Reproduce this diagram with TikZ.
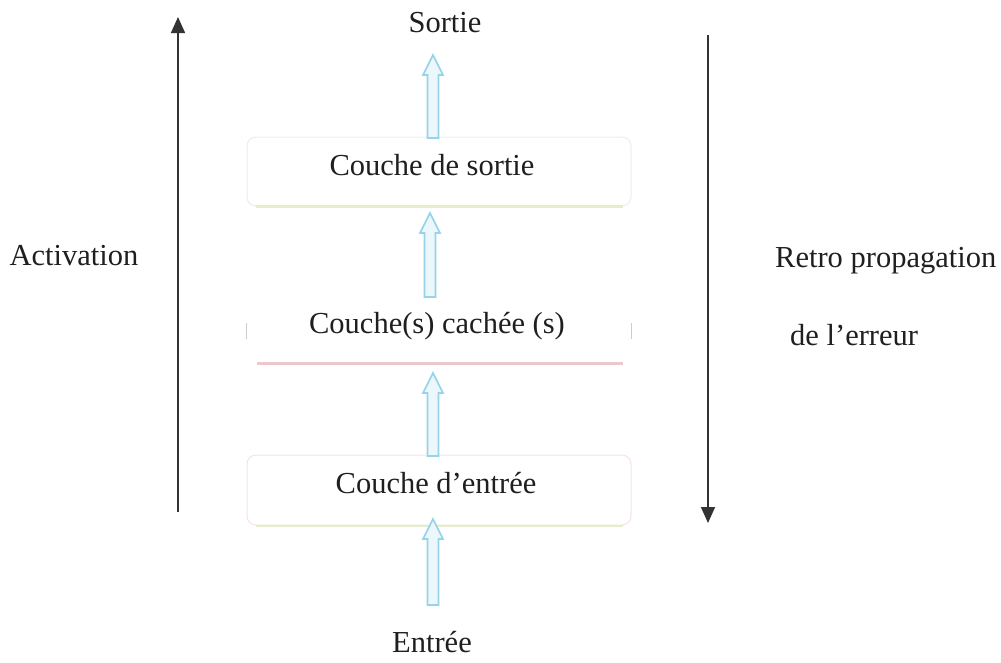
\documentclass[tikz,border=0pt]{standalone}
\usepackage{fontspec}
\setmainfont{Liberation Serif}
\usetikzlibrary{calc,arrows.meta}

\definecolor{arrowline}{RGB}{150,212,232}
\definecolor{arrowfill}{RGB}{236,247,252}
\definecolor{hidshadow}{RGB}{236,200,206}
\definecolor{greenedge}{RGB}{230,238,200}
\definecolor{pinkedge}{RGB}{242,214,220}

% light blue outline arrow between two named points
\newcommand\hollowarrow[2]{%
  \draw[flowarrow] let \p1=(#1), \p2=(#2) in
    (\x1-5.5pt,\y1) -- (\x1-5.5pt,\y2-20pt) -- (\x1-10pt,\y2-20pt) -- (\x2,\y2)
    -- (\x1+10pt,\y2-20pt) -- (\x1+5.5pt,\y2-20pt) -- (\x1+5.5pt,\y1) -- cycle;}

\begin{document}
\begin{tikzpicture}[x=1pt,y=-1pt,
  txt/.style={font=\fontsize{30.5}{36}\selectfont, inner sep=0pt, text=black!88},
  layerbox/.style={rounded corners=9pt, minimum width=384pt, inner sep=0pt,
    fill=white, draw=black!7, line width=1pt},
  flowarrow/.style={draw=arrowline, line width=1.6pt, fill=arrowfill, line join=miter},
  mainflow/.style={draw=black!80, line width=1.5pt,
    -{Triangle[length=16pt,width=14pt]}},
]
\useasboundingbox (0,0) rectangle (1001,662);

% layers
\node[layerbox, minimum height=69pt] (outl) at (439,171.5) {};
\node[layerbox, minimum height=68pt, draw=none] (hid) at (439,329) {};
\node[layerbox, minimum height=70pt, draw=pinkedge!70] (inl) at (439,490) {};

% coloured lower edges of the layers
\draw[greenedge, line width=2.2pt] ([xshift=9pt]outl.south west) -- ([xshift=-9pt]outl.south east);
\draw[hidshadow, line width=3pt] ([xshift=10pt]hid.south west) -- ([xshift=-9pt]hid.south east);
\draw[greenedge, line width=2pt] ([xshift=9pt]inl.south west) -- ([xshift=-9pt]inl.south east);
\draw[black!20, line width=1pt] ([yshift=-10pt]hid.west) -- ([yshift=6pt]hid.west);
\draw[black!20, line width=1pt] ([yshift=-10pt]hid.east) -- ([yshift=6pt]hid.east);

% layer labels
\node[txt, anchor=base] (toutl) at (432,175) {Couche de sortie};
\node[txt, anchor=base] (thid) at (437,333) {Couche(s) cachée (s)};
\node[txt, anchor=base] (tinl) at (436,493) {Couche d’entrée};

% input / output labels
\node[txt, anchor=base] (sortie) at (445,32) {Sortie};
\node[txt, anchor=base] (entree) at (432,652) {Entrée};

% flow between layers
\coordinate (b1) at (433,605); \coordinate (t1) at (433,519);
\coordinate (b2) at (433,456); \coordinate (t2) at (433,373);
\coordinate (b3) at (430,297); \coordinate (t3) at (430,213);
\coordinate (b4) at (433,138); \coordinate (t4) at (433,55);
\hollowarrow{b1}{t1}
\hollowarrow{b2}{t2}
\hollowarrow{b3}{t3}
\hollowarrow{b4}{t4}

% activation (forward) and error back-propagation
\coordinate (actBot) at (178,512); \coordinate (actTop) at (178,17);
\coordinate (errTop) at (708,35); \coordinate (errBot) at (708,523);
\draw[mainflow] (actBot) -- (actTop);
\draw[mainflow] (errTop) -- (errBot);

\node[txt, anchor=base] (act) at (74,265) {Activation};
\node[txt, anchor=base west] (retro) at (775,267) {Retro propagation};
\node[txt, anchor=base west] (err) at (790,345) {de l’erreur};
\end{tikzpicture}
\end{document}
